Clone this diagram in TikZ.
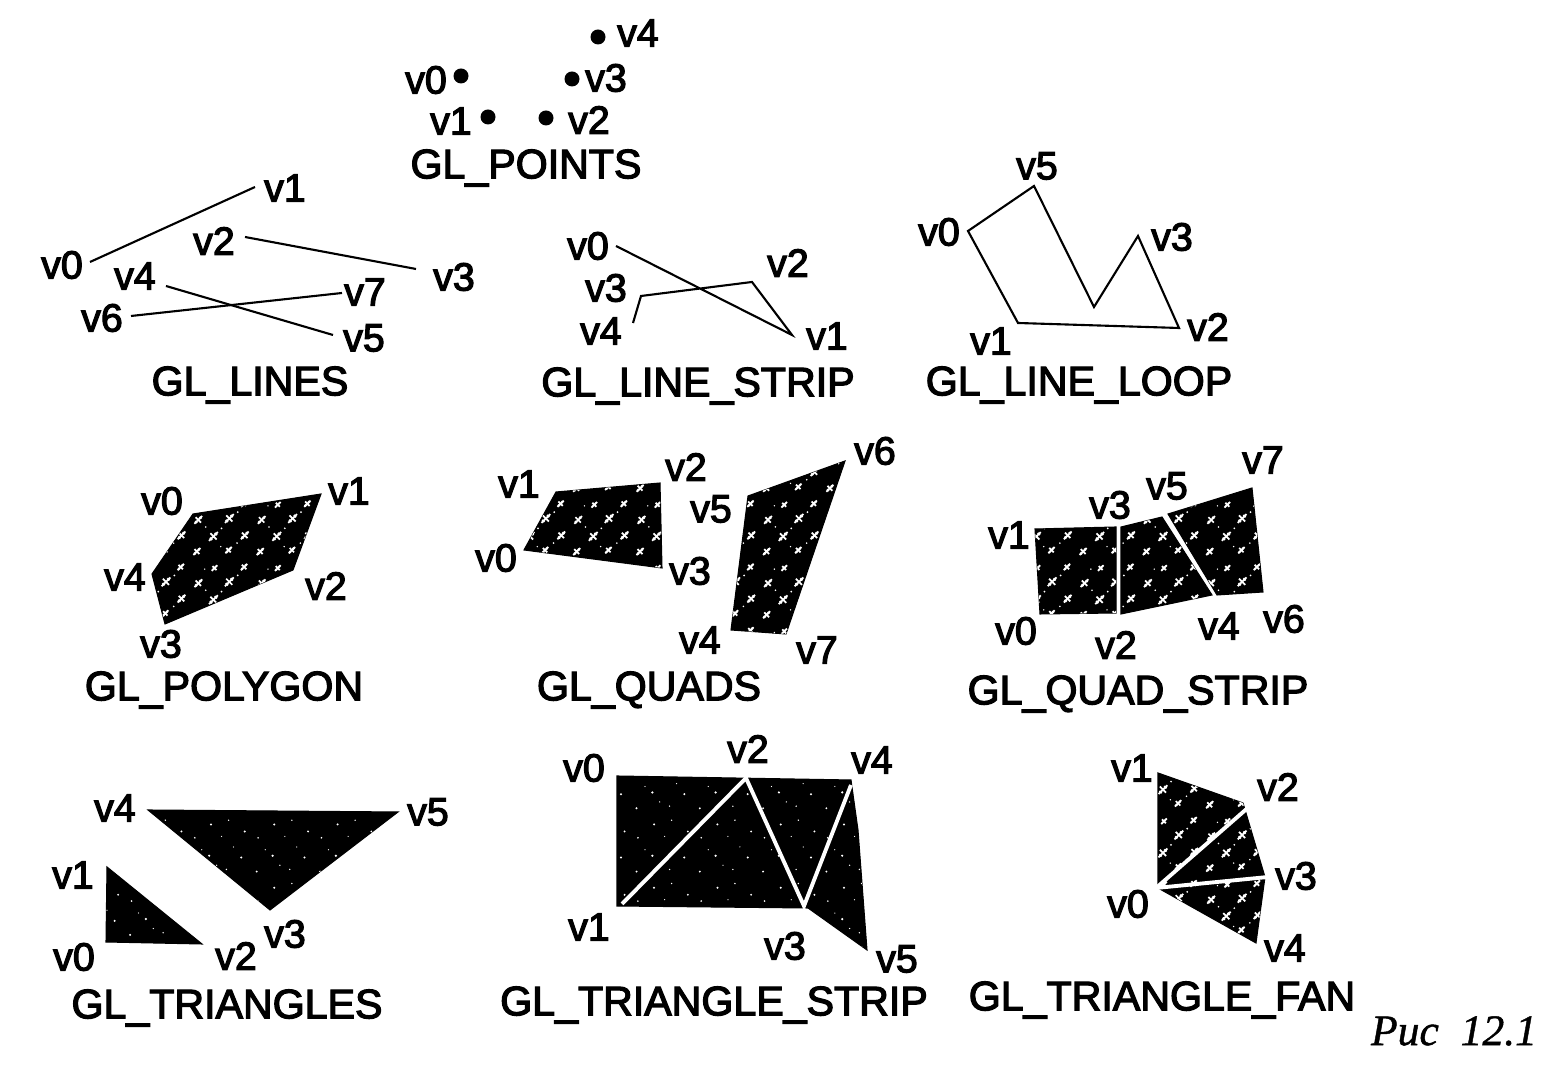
\documentclass[tikz,border=0pt]{standalone}
\usepackage{fontspec}
\setmainfont{Liberation Sans}
\newfontfamily\heavyfont{Liberation Sans}[RawFeature={embolden=3}]
\newfontfamily\capfont{Liberation Serif}[RawFeature={embolden=1}]
\usetikzlibrary{patterns}
\newcommand{\blot}[3]{% centre x, centre y, arm
    \pgfpathmoveto{\pgfpoint{#1pt-#3pt}{#2pt-#3pt}}\pgfpathlineto{\pgfpoint{#1pt+#3pt}{#2pt+#3pt}}
    \pgfpathmoveto{\pgfpoint{#1pt-0.7*#3pt}{#2pt+0.7*#3pt}}\pgfpathlineto{\pgfpoint{#1pt+0.7*#3pt}{#2pt-0.7*#3pt}}
    \pgfpathmoveto{\pgfpoint{#1pt+0.3*#3pt}{#2pt+0.8*#3pt}}\pgfpathlineto{\pgfpoint{#1pt+0.8*#3pt}{#2pt+0.3*#3pt}}
    \pgfpathmoveto{\pgfpoint{#1pt-0.8*#3pt}{#2pt-0.3*#3pt}}\pgfpathlineto{\pgfpoint{#1pt-0.3*#3pt}{#2pt-0.8*#3pt}}
}
\pgfdeclarepatternformonly{blotch}{\pgfqpoint{-2pt}{-2pt}}{\pgfqpoint{20pt}{20pt}}{\pgfqpoint{18pt}{18pt}}{
    \pgfsetlinewidth{0.5pt}
    \blot{2}{2}{1}
    \blot{6.7}{6.3}{1.25}
    \blot{11}{2.4}{0.9}
    \blot{15.6}{6.6}{1.1}
    \blot{2.4}{11}{1.1}
    \blot{7}{15.3}{0.8}
    \blot{11.2}{11.4}{1.25}
    \blot{15.4}{15.6}{0.9}
    \pgfusepath{stroke}
    \pgfpathcircle{\pgfqpoint{4.5pt}{9pt}}{0.25pt}
    \pgfpathcircle{\pgfqpoint{9pt}{8.6pt}}{0.28pt}
    \pgfpathcircle{\pgfqpoint{13.4pt}{4.4pt}}{0.25pt}
    \pgfpathcircle{\pgfqpoint{4.2pt}{15pt}}{0.22pt}
    \pgfpathcircle{\pgfqpoint{13.6pt}{13.2pt}}{0.28pt}
    \pgfpathcircle{\pgfqpoint{8.8pt}{3.4pt}}{0.22pt}
    \pgfusepath{fill}
}
\pgfdeclarepatternformonly{finespeck}{\pgfqpoint{-2pt}{-2pt}}{\pgfqpoint{20pt}{20pt}}{\pgfqpoint{18pt}{18pt}}{
    \pgfpathcircle{\pgfqpoint{1pt}{1pt}}{0.3pt}
    \pgfpathcircle{\pgfqpoint{5.5pt}{5.5pt}}{0.35pt}
    \pgfpathcircle{\pgfqpoint{3.4pt}{7.2pt}}{0.18pt}
    \pgfpathcircle{\pgfqpoint{7.6pt}{2.8pt}}{0.2pt}
    \pgfpathcircle{\pgfqpoint{10.4pt}{1.6pt}}{0.22pt}
    \pgfpathcircle{\pgfqpoint{14.6pt}{5pt}}{0.32pt}
    \pgfpathcircle{\pgfqpoint{12.4pt}{8pt}}{0.18pt}
    \pgfpathcircle{\pgfqpoint{1.4pt}{10.6pt}}{0.25pt}
    \pgfpathcircle{\pgfqpoint{6pt}{14.4pt}}{0.32pt}
    \pgfpathcircle{\pgfqpoint{9pt}{11pt}}{0.18pt}
    \pgfpathcircle{\pgfqpoint{11pt}{15.6pt}}{0.22pt}
    \pgfpathcircle{\pgfqpoint{15.6pt}{12.4pt}}{0.3pt}
    \pgfusepath{fill}
}
\tikzset{
    lbl/.style={font=\heavyfont\fontsize{11.2}{13}\selectfont, inner sep=0pt},
    title/.style={font=\heavyfont\fontsize{11.7}{14}\selectfont, inner sep=0pt, yshift=-0.03cm},
    prim/.style={fill=black, draw=black, line width=0.3pt},
    cut/.style={white, line width=1.1pt},
    wire/.style={black, line width=0.6pt}
}
\newcommand{\speck}[1]{\fill[pattern=blotch, pattern color=white] #1;}
\newcommand{\speckfine}[1]{\fill[pattern=finespeck, pattern color=white] #1;}
\begin{document}
\begin{tikzpicture}[x=0.01cm,y=-0.01cm]
    \useasboundingbox (0,0) rectangle (1566,1065);
    % points
    \fill (598,37) circle(7.5);
    \fill (461,76) circle(7.5);
    \fill (572,79) circle(7.5);
    \fill (488,117) circle(7.5);
    \fill (546,118) circle(7.5);
    \node[lbl] (p4) at (638,33) {v4};
    \node[lbl] (p0) at (426,80) {v0};
    \node[lbl] (p3) at (606,78) {v3};
    \node[lbl] (p1) at (451,121) {v1};
    \node[lbl] (p2) at (589,120) {v2};
    \node[title] (tpoints) at (526,165) {GL\_POINTS};
    % lines
    \draw[wire] (90,262) -- (255,187);
    \draw[wire] (245,237) -- (416,269);
    \draw[wire] (166,286) -- (333,335);
    \draw[wire] (131,316) -- (342,293);
    \node[lbl] (a1) at (285,188) {v1};
    \node[lbl] (a0) at (62,265) {v0};
    \node[lbl] (a2) at (214,241) {v2};
    \node[lbl] (a3) at (454,277) {v3};
    \node[lbl] (a4) at (135,276) {v4};
    \node[lbl] (a7) at (365,292) {v7};
    \node[lbl] (a6) at (102,318) {v6};
    \node[lbl] (a5) at (364,338) {v5};
    \node[title] (tlines) at (250,382) {GL\_LINES};
    % line strip
    \draw[wire] (616,246) -- (792,335) -- (752,282) -- (641,296) -- (633,323);
    \node[lbl] (b0) at (588,246) {v0};
    \node[lbl] (b2) at (788,263) {v2};
    \node[lbl] (b3) at (606,288) {v3};
    \node[lbl] (b4) at (601,331) {v4};
    \node[lbl] (b1) at (827,336) {v1};
    \node[title] (tstrip) at (698,383) {GL\_LINE\_STRIP};
    % line loop
    \draw[wire] (968,231) -- (1034,186) -- (1094,307) -- (1138,236) -- (1179,328) -- (1018,323) -- cycle;
    \node[lbl] (c5) at (1037,166) {v5};
    \node[lbl] (c0) at (939,232) {v0};
    \node[lbl] (c3) at (1172,237) {v3};
    \node[lbl] (c2) at (1208,327) {v2};
    \node[lbl] (c1) at (991,341) {v1};
    \node[title] (tloop) at (1079,382) {GL\_LINE\_LOOP};
    % polygon
    \fill[prim] (193,514) -- (321,494) -- (293,570) -- (165,624) -- (152,574) -- cycle;
    \speck{(193,514) -- (321,494) -- (293,570) -- (165,624) -- (152,574) -- cycle}
    \node[lbl] (d0) at (162,501) {v0};
    \node[lbl] (d1) at (349,491) {v1};
    \node[lbl] (d2) at (326,586) {v2};
    \node[lbl] (d3) at (161,644) {v3};
    \node[lbl] (d4) at (125,577) {v4};
    \node[title] (tpoly) at (224,687) {GL\_POLYGON};
    % quads
    \fill[prim] (556,492) -- (660,483) -- (662,568) -- (524,550) -- cycle;
    \speck{(556,492) -- (660,483) -- (662,568) -- (524,550) -- cycle}
    \fill[prim] (748,496) -- (845,461) -- (786,634) -- (731,630) -- cycle;
    \speck{(748,496) -- (845,461) -- (786,634) -- (731,630) -- cycle}
    \node[lbl] (e1) at (519,484) {v1};
    \node[lbl] (e2) at (686,467) {v2};
    \node[lbl] (e0) at (496,558) {v0};
    \node[lbl] (e3) at (690,571) {v3};
    \node[lbl] (e6) at (875,451) {v6};
    \node[lbl] (e5) at (711,509) {v5};
    \node[lbl] (e4) at (700,640) {v4};
    \node[lbl] (e7) at (817,650) {v7};
    \node[title] (tquads) at (649,687) {GL\_QUADS};
    % quad strip
    \fill[prim] (1035,529) -- (1116,527) -- (1116,613) -- (1040,614) -- cycle;
    \speck{(1035,529) -- (1116,527) -- (1116,613) -- (1040,614) -- cycle}
    \fill[prim] (1121,527) -- (1162,517) -- (1212,595) -- (1121,614) -- cycle;
    \speck{(1121,527) -- (1162,517) -- (1212,595) -- (1121,614) -- cycle}
    \fill[prim] (1168,514) -- (1252,488) -- (1263,592) -- (1217,595) -- cycle;
    \speck{(1168,514) -- (1252,488) -- (1263,592) -- (1217,595) -- cycle}
    \node[lbl] (f7) at (1263,460) {v7};
    \node[lbl] (f5) at (1167,486) {v5};
    \node[lbl] (f3) at (1110,505) {v3};
    \node[lbl] (f1) at (1009,535) {v1};
    \node[lbl] (f0) at (1016,631) {v0};
    \node[lbl] (f2) at (1116,645) {v2};
    \node[lbl] (f4) at (1219,626) {v4};
    \node[lbl] (f6) at (1284,619) {v6};
    \node[title] (tqstrip) at (1138,691) {GL\_QUAD\_STRIP};
    % triangles
    \fill[prim] (107,867) -- (202,944) -- (106,942) -- cycle;
    \speckfine{(107,867) -- (202,944) -- (106,942) -- cycle}
    \fill[prim] (148,810) -- (398,812) -- (270,910) -- cycle;
    \speckfine{(148,810) -- (398,812) -- (270,910) -- cycle}
    \node[lbl] (g4) at (115,808) {v4};
    \node[lbl] (g5) at (428,812) {v5};
    \node[lbl] (g1) at (73,875) {v1};
    \node[lbl] (g0) at (74,957) {v0};
    \node[lbl] (g2) at (236,956) {v2};
    \node[lbl] (g3) at (285,934) {v3};
    \node[title] (ttri) at (227,1005) {GL\_TRIANGLES};
    % triangle strip
    \fill[prim] (617,776) -- (851,780) -- (858,830) -- (867,950) -- (808,908) -- (617,906) -- cycle;
    \speckfine{(617,776) -- (851,780) -- (858,830) -- (867,950) -- (808,908) -- (617,906) -- cycle}
    \draw[cut] (622,904) -- (746,778) -- (804,906) -- (851,785);
    \node[lbl] (h0) at (584,768) {v0};
    \node[lbl] (h2) at (748,749) {v2};
    \node[lbl] (h4) at (872,760) {v4};
    \node[lbl] (h1) at (589,927) {v1};
    \node[lbl] (h3) at (785,946) {v3};
    \node[lbl] (h5) at (897,959) {v5};
    \node[title] (ttstrip) at (714,1002) {GL\_TRIANGLE\_STRIP};
    % triangle fan
    \fill[prim] (1158,773) -- (1243,803) -- (1265,877) -- (1256,943) -- (1158,888) -- cycle;
    \speck{(1158,773) -- (1243,803) -- (1265,877) -- (1256,943) -- (1158,888) -- cycle}
    \draw[cut] (1250,806) -- (1156,888) -- (1268,877);
    \node[lbl] (i1) at (1132,768) {v1};
    \node[lbl] (i2) at (1278,787) {v2};
    \node[lbl] (i3) at (1296,876) {v3};
    \node[lbl] (i0) at (1128,904) {v0};
    \node[lbl] (i4) at (1285,948) {v4};
    \node[title] (tfan) at (1162,997) {GL\_TRIANGLE\_FAN};
    % caption
    \node[font={\capfont\itshape\fontsize{12.4}{14}\selectfont}, inner sep=0pt] (cap) at (1454,1031) {Рис\ \ 12.1};
\end{tikzpicture}
\end{document}
